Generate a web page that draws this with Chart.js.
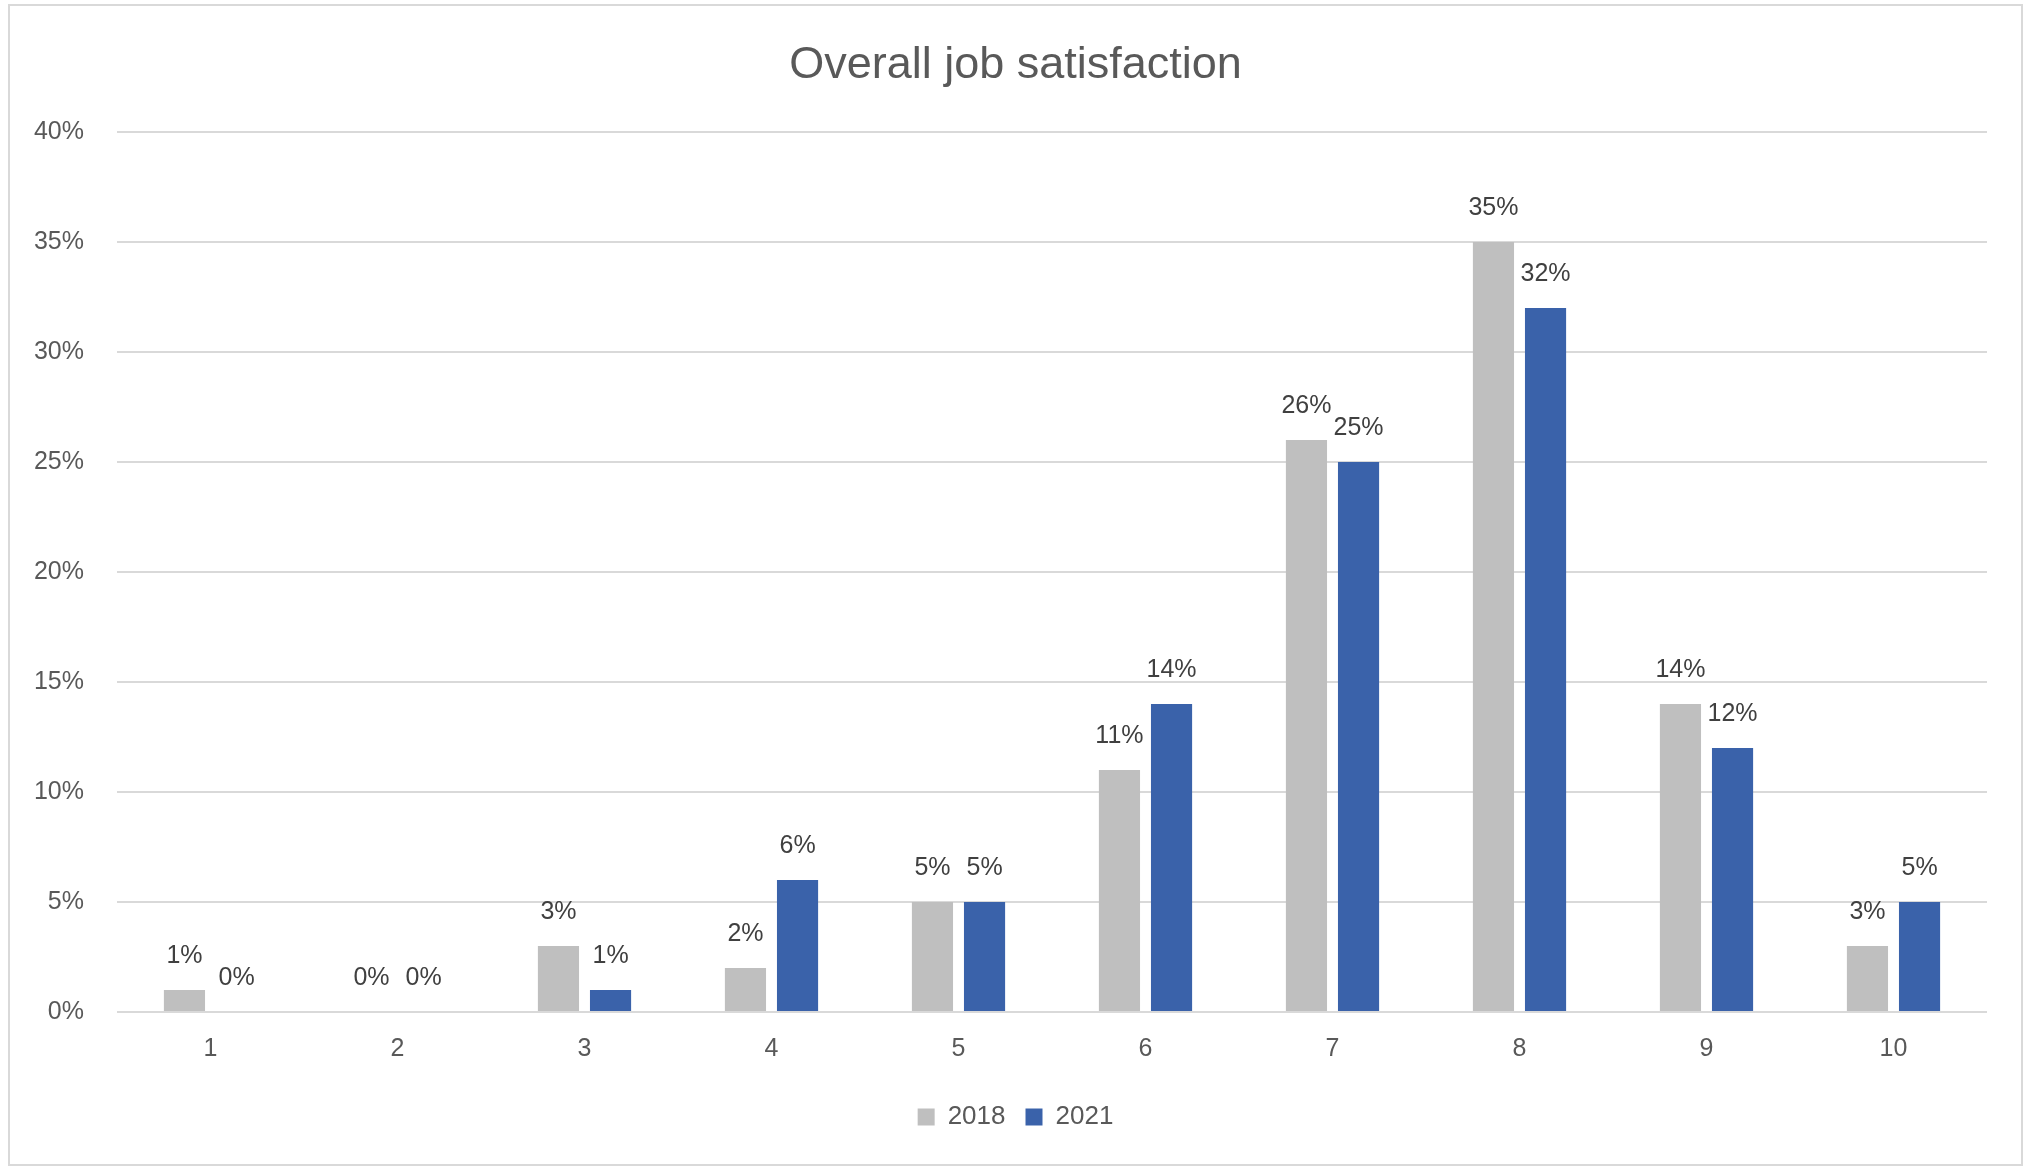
<!DOCTYPE html>
<html>
<head>
<meta charset="utf-8">
<script src="https://cdn.jsdelivr.net/npm/chart.js@4"></script>
<style>
    html, body { margin: 0; padding: 0; background: #fff; }
    #frame {
        position: absolute; left: 8px; top: 4px;
        width: 2011px; height: 1158px;
        border: 2px solid #d9d9d9;
    }
</style>
</head>
<body>
<div id="frame"><canvas id="chartJob" width="2011" height="1158"></canvas></div>
<script>
// ---- DATA ----
const categories = ['1', '2', '3', '4', '5', '6', '7', '8', '9', '10'];
const values2018 = [1, 0, 3, 2, 5, 11, 26, 35, 14, 3];
const values2021 = [0, 0, 1, 6, 5, 14, 25, 32, 12, 5];
const seriesNames = ['2018', '2021'];

const FONT = "'Liberation Sans', Arial, sans-serif";
const TEXT = '#595959';

// value labels above bars (no datalabels plugin offline)
const barLabels = {
    id: 'barLabels',
    afterDatasetsDraw(chart) {
        const ctx = chart.ctx;
        ctx.save();
        ctx.font = '25px ' + FONT;
        ctx.fillStyle = '#404040';
        ctx.textAlign = 'center';
        ctx.textBaseline = 'middle';
        chart.data.datasets.forEach((ds, i) => {
            chart.getDatasetMeta(i).data.forEach((bar, j) => {
                ctx.fillText(ds.data[j] + '%', bar.x, bar.y - 34);
            });
        });
        ctx.restore();
    }
};

const ctxJob = document.getElementById('chartJob').getContext('2d');
new Chart(ctxJob, {
    type: 'bar',
    data: {
        labels: categories,
        datasets: [
            { label: seriesNames[0], data: values2018, backgroundColor: '#bfbfbf', categoryPercentage: 0.557, barPercentage: 0.79 },
            { label: seriesNames[1], data: values2021, backgroundColor: '#3a62aa', categoryPercentage: 0.557, barPercentage: 0.79 }
        ]
    },
    options: {
        responsive: false,
        animation: false,
        layout: { padding: { left: 0, right: 0, top: 0, bottom: 24 } },
        scales: {
            x: {
                grid: { display: false },
                border: { display: false },
                ticks: { color: TEXT, font: { family: FONT, size: 25 }, padding: 14 },
                afterFit: (s) => { s.height = 72; }
            },
            y: {
                min: 0, max: 40,
                grid: { color: '#d9d9d9', lineWidth: 2, drawTicks: false },
                border: { display: false },
                ticks: { stepSize: 5, color: TEXT, font: { family: FONT, size: 25 }, padding: 33, callback: v => v + '%' },
                afterFit: (s) => { s.width = 107; }
            },
            // empty right margin so the title and legend stay centred on the frame
            yRight: {
                position: 'right',
                grid: { display: false },
                border: { display: false },
                ticks: { display: false },
                afterFit: (s) => { s.width = 34; }
            }
        },
        plugins: {
            title: {
                display: true,
                text: 'Overall job satisfaction',
                color: TEXT,
                font: { family: FONT, size: 45, weight: 'normal' },
                padding: { top: 33, bottom: 39 }
            },
            legend: {
                position: 'bottom',
                labels: { color: TEXT, font: { family: FONT, size: 26 }, boxWidth: 17, boxHeight: 17, padding: 20 }
            },
            tooltip: { enabled: false }
        }
    },
    plugins: [barLabels]
});
</script>
</body>
</html>
